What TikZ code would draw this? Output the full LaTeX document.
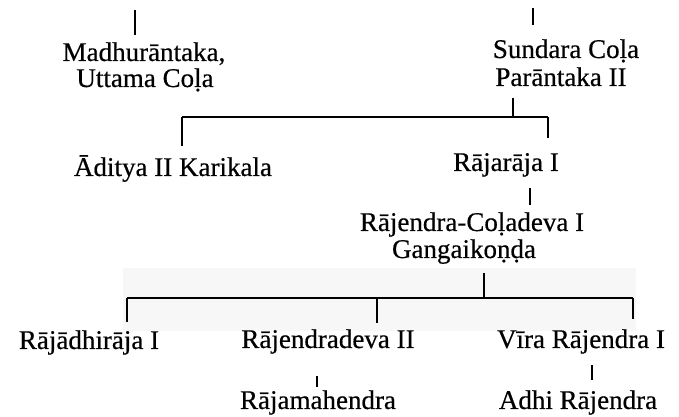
\documentclass[tikz,border=0pt]{standalone}
\usepackage{fontspec}
\setmainfont{Liberation Serif}[FakeBold=0.5]
\begin{document}
\begin{tikzpicture}[x=0.5pt, y=0.5pt,
  person/.style={font=\fontsize{13.5}{16}\selectfont, anchor=base, inner sep=0pt},
  kin/.style={line width=1.1pt},
  tick/.style={line width=1.4pt}]
  \useasboundingbox (0,0) rectangle (679,417);
  \fill[black!3] (123,86) rectangle (636,149);
  % names, one line each
  \foreach \n/\x/\y/\t in {madh/144/356/{Madhurāntaka,}, uttama/145/330/{Uttama Coḷa},
      sundara/566/359/{Sundara Coḷa}, parantaka/561/331/{Parāntaka II},
      aditya/173/241/{Āditya II Karikala}, rajaraja/506/246/{Rājarāja I},
      rajendra/472/186/{Rājendra-Coḷadeva I}, gangai/464/159/{Gangaikoṇḍa},
      adhiraja/89/68/{Rājādhirāja I}, deva/328/69/{Rājendradeva II},
      mahendra/318/8/{Rājamahendra}, vira/581/69/{Vīra Rājendra I},
      adhi/578/8/{Adhi Rājendra}}
    \node[person] (\n) at (\x,\y) {\t};
  % ends of the family lines
  \foreach \c/\x/\y in {m0/135/407, m1/135/382, s0/533/409, s1/533/392,
      p0/513/319, p1/513/300, bl/182/300, br/548/300, a1/182/271, r1/548/279,
      rr0/530/229, rr1/530/212, g0/484/144, g1/484/119, cl/127/119, cr/633/119,
      c1/127/95, cm/377/119, c2/377/94, c3/633/98,
      d0/317/41, d1/317/30, v0/592/52, v1/592/37}
    \coordinate (\c) at (\x,\y);
  % bars and drops
  \foreach \a/\b in {bl/br, bl/a1, br/r1, cl/cr, cl/c1, cm/c2, cr/c3}
    \draw[kin] (\a) -- (\b);
  % single descent
  \foreach \a/\b in {m0/m1, s0/s1, p0/p1, rr0/rr1, g0/g1, d0/d1, v0/v1}
    \draw[tick] (\a) -- (\b);
\end{tikzpicture}
\end{document}
